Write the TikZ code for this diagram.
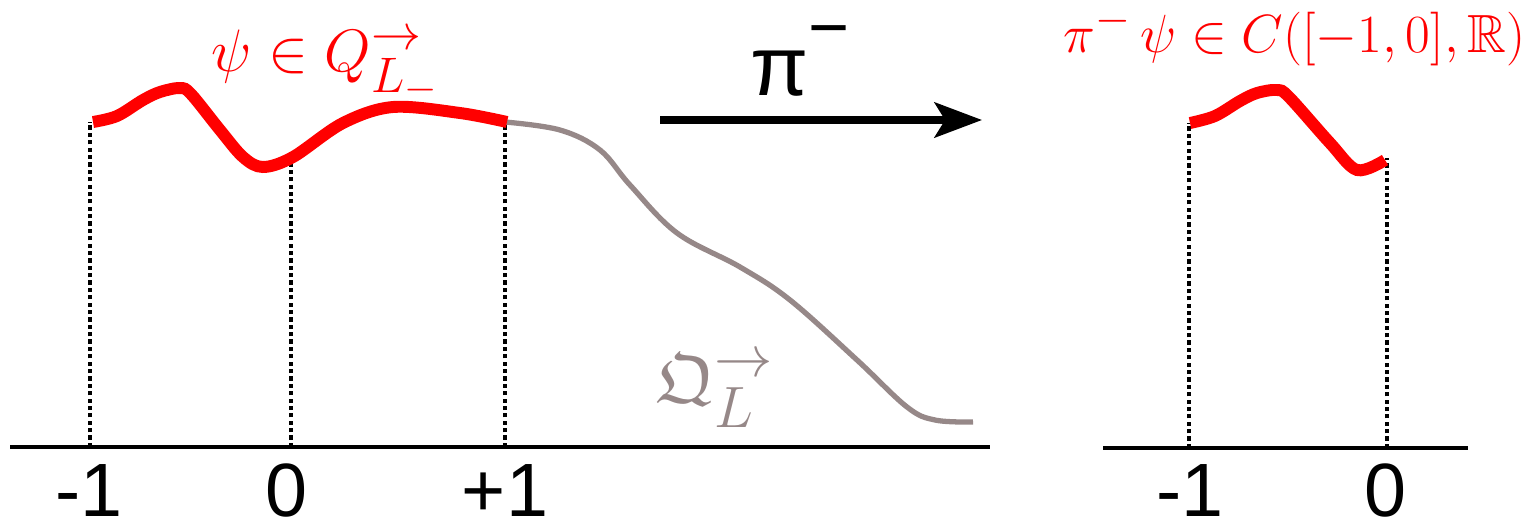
\documentclass[tikz,border=0pt]{standalone}
\usepackage{amsmath,amssymb}
\usepackage{fontspec}
\newfontfamily\arialish{Liberation Sans}
\usetikzlibrary{arrows.meta}
\definecolor{qgray}{RGB}{150,136,136}
\begin{document}
\begin{tikzpicture}[x=0.02cm,y=-0.02cm,
  axisline/.style={line width=1.8pt},
  dotline/.style={line width=2.6pt,dash pattern=on 2.4pt off 1.8pt},
  redcurve/.style={red,line width=6.8pt},
  graycurve/.style={qgray,line width=3pt},
  ticklab/.style={font=\arialish\fontsize{43}{50}\selectfont,anchor=base,inner sep=0pt},
  redlab/.style={red,anchor=base west,inner sep=0pt}]
\useasboundingbox (0,0) rectangle (1535,528);
% left axis and dotted verticals
\draw[axisline] (10,447) -- (990,447);
\draw[dotline] (90,447) -- (90,122);
\draw[dotline] (291,447) -- (291,158);
\draw[dotline] (505,447) -- (505,122);
% gray continuation
\draw[graycurve] plot[smooth,tension=0.6] coordinates {(505,122) (560,130) (600,150) (630,185) (677,233) (740,267) (790,300) (857,360) (907,407) (935,420) (973,422)};
% red curve
\draw[redcurve] plot[smooth,tension=0.55] coordinates {(93,122) (117,116) (143,100) (160,92) (180,88) (191,94) (220,130) (243,157) (263,167) (293,157) (343,123) (393,107) (460,113) (507,122)};
% tick labels
\node[ticklab] (lm1) at (89,516) {-1};
\node[ticklab] (l0) at (287,516) {0};
\node[ticklab] (lp1) at (505,516) {+1};
% labels
\node[redlab,font=\fontsize{24.88}{30}\selectfont] (psi) at (211,71) {\scalebox{1.37}{$\psi\in Q^{\rightarrow}_{L_-}$}};
\node[qgray,anchor=base west,inner sep=0pt,font=\fontsize{24.88}{30}\selectfont] (QL) at (656,402) {\scalebox{1.6}{$\mathfrak{Q}^{\rightarrow}_{L}$}};
% projection arrow
\draw[line width=4pt,-{Stealth[length=27pt,width=20pt,inset=6pt]}] (660,120) -- (982,120);
\node[anchor=base west,inner sep=0pt,font=\arialish\fontsize{48}{56}\selectfont] (pi) at (750,95) {π\raisebox{0.52em}{\fontsize{40}{46}\selectfont −}};
% right panel
\draw[axisline] (1103,448) -- (1468,448);
\draw[dotline] (1189,448) -- (1189,123);
\draw[dotline] (1387,448) -- (1387,158);
\draw[redcurve] plot[smooth,tension=0.55] coordinates {(1190,123) (1215,116) (1240,101) (1257,93) (1277,90) (1289,97) (1330,143) (1357,170) (1385,160)};
\node[ticklab] (rm1) at (1190,516) {-1};
\node[ticklab] (r0) at (1385,516) {0};
\node[redlab,font=\fontsize{24.88}{30}\selectfont] (proj) at (1063,52) {\scalebox{1.23}{$\pi^-\,\psi\in C([-1,0],\mathbb{R})$}};
\end{tikzpicture}
\end{document}
